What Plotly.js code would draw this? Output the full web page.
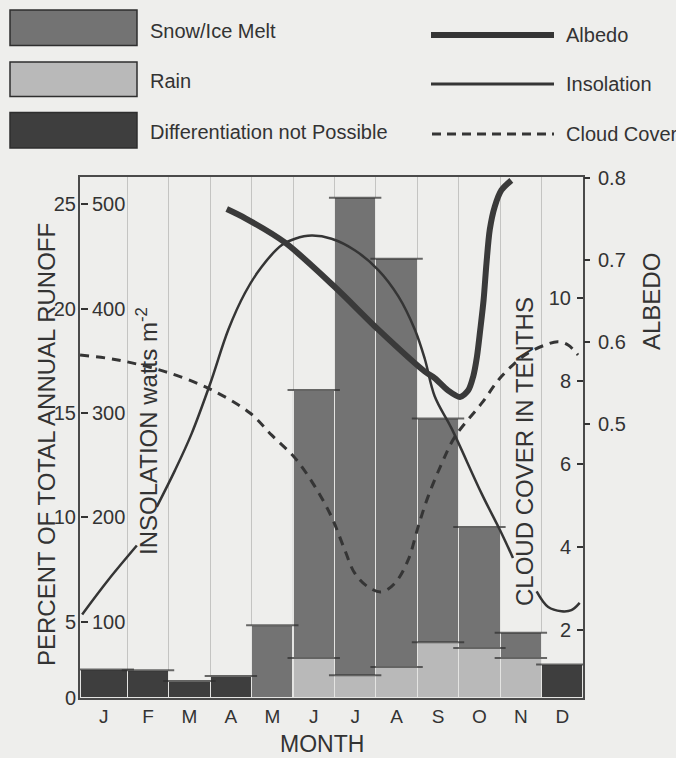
<!DOCTYPE html>
<html>
<head>
<meta charset="utf-8">
<script src="https://cdn.plot.ly/plotly-3.0.1.min.js"></script>
<style>html,body{margin:0;padding:0;background:#eeeeec;}#chart{width:676px;height:758px;}</style>
</head>
<body>
<div id="chart"></div>
<script>
// ---- data ----
const months = ['J','F','M','A','M','J','J','A','S','O','N','D'];
// percent of total annual runoff
const diffRunoff = [1.44, 1.40, 0.86, 1.11, null, null, null, null, null, null, null, 1.69];
const rainRunoff = [null, null, null, null, null, 2.03, 1.15, 1.57, 2.82, 2.53, 2.03, null];
const snowRunoff = [null, null, null, null, 3.68, 13.56, 24.18, 20.67, 11.33, 6.13, 1.28, null];
// insolation, W m-2 (x = position in months, 0 = start of January); null = hidden behind label
const insolMonth = [-0.09, 0.54, 1.23, null, 1.71, 2.15, 2.55, 3.00, 3.44, 3.84, 4.24, 4.73, 5.05, 5.45, 5.93, 6.49, 7.06, 7.54, 7.94, 8.18, 8.42, 8.83, 9.55, 10.03, 10.31, null, 10.88, 11.16, 11.48, 11.72, 11.92];
const insolValue = [107, 140, 173, null, 210, 245, 280, 328, 380, 415, 440, 461, 467, 470, 467, 456, 437, 412, 380, 352, 316, 285, 223, 185, 161, null, 129, 114, 110, 111, 118];
// albedo
const albedoMonth = [3.40, 3.84, 4.81, 6.01, 7.06, 8.18, 8.42, 8.74, 9.03, 9.23, 9.35, 9.44, 9.52, 9.60, 9.67, 9.75, 9.87, 10.03, 10.27];
const albedoValue = [0.762, 0.751, 0.721, 0.667, 0.615, 0.564, 0.556, 0.541, 0.533, 0.541, 0.558, 0.582, 0.615, 0.651, 0.696, 0.737, 0.765, 0.785, 0.797];
// cloud cover, tenths
const cloudMonth = [-0.14, 0.54, 1.11, 1.91, 2.95, 3.96, 4.48, 5.05, 5.53, 5.93, 6.25, 6.49, 6.81, 7.14, 7.46, 7.78, 8.02, 8.26, 8.59, 8.91, 9.55, 10.03, 10.60, 11.08, 11.40, 11.64, 11.88];
const cloudValue = [8.63, 8.55, 8.44, 8.23, 7.83, 7.23, 6.70, 6.14, 5.45, 4.72, 3.92, 3.36, 3.03, 2.91, 3.12, 3.68, 4.48, 5.21, 6.01, 6.66, 7.46, 8.11, 8.63, 8.87, 8.95, 8.87, 8.63];
// tick labels
const runoffTicks = ['0','5','10','15','20','25'];
const insolTicks = [100, 200, 300, 400, 500];
const albedoTicks = [0.5, 0.6, 0.7, 0.8];
const cloudTicks = [2, 4, 6, 8, 10];

// ---- layout geometry ----
const W = 676, H = 758;
const PL = 80, PR = 583, PT = 177, PB = 698;
const XMIN = -0.142;
const insolRange = [26.88, 526.16];
const colPx = (PR - PL) / (12 - XMIN);
function xp(px){ return (px - PL) / (PR - PL); }
function yp(py){ return (PB - py) / (PB - PT); }

const FONT = 'Liberation Sans, Arial, Helvetica, sans-serif';
const INK = '#333333';
const BG = '#eeeeec';
const SNOW = '#737373', RAIN = '#b9b9b9', DIFF = '#3e3e3e';

const xc = months.map((m,i) => i === 0 ? (XMIN + 1) / 2 : i + 0.5);
const wd = months.map((m,i) => i === 0 ? 1 - XMIN : 1);

const barLine = {color: '#e4e4e2', width: 1.2};
const traces = [
  {type:'bar', x:xc, y:diffRunoff, width:wd, marker:{color:DIFF, line:barLine}, name:'Differentiation not Possible', hoverinfo:'skip'},
  {type:'bar', x:xc, y:rainRunoff, width:wd, marker:{color:RAIN, line:barLine}, name:'Rain', hoverinfo:'skip'},
  {type:'bar', x:xc, y:snowRunoff, width:wd, marker:{color:SNOW, line:barLine}, name:'Snow/Ice Melt', hoverinfo:'skip'}
];
// dark top edges of each stacked segment
const topX = [], topY = [], topS = [];
months.forEach((m,i) => {
  let acc = 0;
  [diffRunoff[i], rainRunoff[i], snowRunoff[i]].forEach(v => {
    if (v != null) { acc += v; topX.push(xc[i]); topY.push(acc); topS.push(wd[i] * colPx - 4); }
  });
});
traces.push({type:'scatter', mode:'markers', x:topX, y:topY, hoverinfo:'skip',
  marker:{symbol:'line-ew', size:topS, color:'#2e2e2e', line:{color:'#2e2e2e', width:2}}});

traces.push({type:'scatter', mode:'lines', x:insolMonth, y:insolValue, yaxis:'y2', connectgaps:false,
  line:{color:'#353535', width:2.5, shape:'spline', smoothing:1}, name:'Insolation', hoverinfo:'skip'});
traces.push({type:'scatter', mode:'lines', x:albedoMonth, y:albedoValue, yaxis:'y4',
  line:{color:'#3a3a3a', width:6, shape:'spline', smoothing:0.8}, name:'Albedo', hoverinfo:'skip'});
traces.push({type:'scatter', mode:'lines', x:cloudMonth, y:cloudValue, yaxis:'y5',
  line:{color:'#353535', width:3, dash:'9px,7px', shape:'spline', smoothing:1}, name:'Cloud Cover', hoverinfo:'skip'});
// invisible trace to make the runoff-label axis exist
traces.push({type:'scatter', mode:'markers', x:[XMIN], y:[insolRange[0]], yaxis:'y3', marker:{opacity:0}, hoverinfo:'skip'});

const tickFont = {family:FONT, size:20, color:INK};
const layout = {
  width:W, height:H,
  margin:{l:PL, r:W-PR, t:PT, b:H-PB, pad:0},
  paper_bgcolor:BG, plot_bgcolor:BG,
  showlegend:false, barmode:'stack', bargap:0,
  font:{family:FONT, color:INK},
  xaxis:{range:[XMIN, 12], tickmode:'array', tickvals:xc, ticktext:months, ticks:'', showgrid:false, zeroline:false,
    showline:true, mirror:true, linecolor:'#4a4a4a', linewidth:1.6, tickfont:{family:FONT, size:19, color:INK}, ticklabelstandoff:1,
    minor:{tickmode:'array', tickvals:[1,2,3,4,5,6,7,8,9,10,11], showgrid:true, gridcolor:'#c4c4c2', gridwidth:1, ticks:''}},
  yaxis:{range:[0, 26.38], showticklabels:false, ticks:'', showgrid:false, zeroline:false,
    showline:true, mirror:true, linecolor:'#4a4a4a', linewidth:1.6},
  // insolation: labels drawn just inside the left frame
  yaxis2:{overlaying:'y', side:'right', anchor:'free', position:0, range:insolRange, tickmode:'array', tickvals:insolTicks,
    ticks:'outside', ticklen:7, tickwidth:2, tickcolor:'#333', tickfont:tickFont, ticklabelstandoff:0,
    showgrid:false, zeroline:false, showline:false},
  yaxis3:{overlaying:'y', side:'left', anchor:'x', range:insolRange, tickmode:'array',
    tickvals:[insolRange[0]].concat(insolTicks), ticktext:runoffTicks, ticks:'', tickfont:tickFont, ticklabelstandoff:3,
    showgrid:false, zeroline:false, showline:false},
  yaxis4:{overlaying:'y', side:'right', anchor:'x', range:[0.1660, 0.8011], tickmode:'array', tickvals:albedoTicks,
    tickformat:'.1f', ticks:'outside', ticklen:6, tickwidth:2, tickcolor:'#333', tickfont:tickFont, ticklabelstandoff:4,
    showgrid:false, zeroline:false, showline:false},
  // cloud cover: labels drawn just inside the right frame
  yaxis5:{overlaying:'y', side:'left', anchor:'free', position:1, range:[0.3454, 12.930], tickmode:'array', tickvals:cloudTicks,
    ticks:'outside', ticklen:6, tickwidth:2, tickcolor:'#333', tickfont:tickFont, ticklabelstandoff:2,
    showgrid:false, zeroline:false, showline:false},
  shapes:[], annotations:[]
};

function ann(text, px, py, opts){
  layout.annotations.push(Object.assign({text:text, xref:'paper', yref:'paper', x:xp(px), y:yp(py),
    showarrow:false, xanchor:'center', yanchor:'middle', font:{family:FONT, size:24, color:INK}}, opts||{}));
}
// axis titles
ann('PERCENT OF TOTAL ANNUAL RUNOFF', 46, 445, {textangle:-90});
ann('INSOLATION watts m<sup>-2</sup>', 147, 431, {textangle:-90});
ann('CLOUD COVER IN TENTHS', 524, 452, {textangle:-90});
ann('ALBEDO', 651, 302, {textangle:-90});
ann('MONTH', 322, 744, {font:{family:FONT, size:23, color:INK}});

// legend
const legFont = {family:FONT, size:20, color:INK};
function box(x0,y0,x1,y1,fill){
  layout.shapes.push({type:'rect', xref:'paper', yref:'paper', x0:xp(x0), x1:xp(x1), y0:yp(y0), y1:yp(y1),
    fillcolor:fill, line:{color:'#2e2e2e', width:1.5}});
}
function seg(x0,x1,y,w,dash){
  layout.shapes.push({type:'line', xref:'paper', yref:'paper', x0:xp(x0), x1:xp(x1), y0:yp(y), y1:yp(y),
    line:{color:'#353535', width:w, dash:dash||'solid'}});
}
box(10, 10, 137, 45.5, SNOW);
box(10, 62, 137, 96.5, RAIN);
box(10, 112.5, 137, 148, DIFF);
ann('Snow/Ice Melt', 148, 30.5, {xanchor:'left', font:legFont});
ann('Rain', 148, 81.5, {xanchor:'left', font:legFont});
ann('Differentiation not Possible', 148, 132.5, {xanchor:'left', font:legFont});
seg(431, 554, 35, 6);
seg(431, 554, 84, 3);
seg(432, 554, 134, 3, '9px,6px');
ann('Albedo', 564, 35.5, {xanchor:'left', font:legFont});
ann('Insolation', 564, 83.5, {xanchor:'left', font:legFont});
ann('Cloud Cover', 564, 133.5, {xanchor:'left', font:legFont});

Plotly.newPlot('chart', traces, layout, {staticPlot:true, displayModeBar:false});
</script>
</body>
</html>
